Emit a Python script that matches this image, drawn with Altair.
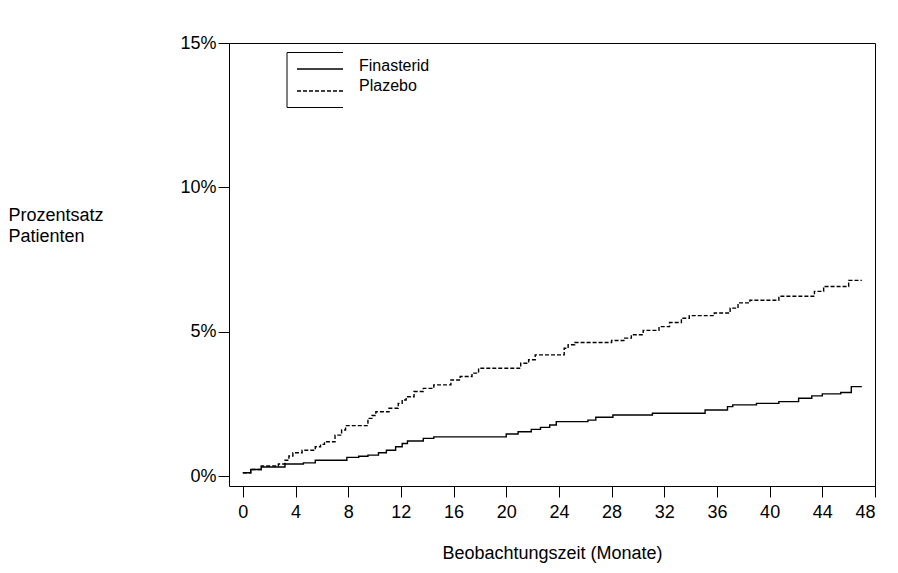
import altair as alt
import pandas as pd

# Kaplan-Meier style cumulative incidence (month, percent)
fin_month = [0, 0.6, 1.4, 3.2, 4.6, 5.5, 7.9, 8.8, 9.5, 10.3, 10.9, 11.6, 12.1, 12.5, 13.7, 14.5,
             20.0, 20.9, 21.9, 22.6, 23.3, 23.8, 26.2, 26.8, 28.1, 31.1, 35.1, 36.8, 37.2, 39.0,
             40.7, 42.2, 43.2, 44.0, 45.4, 46.2, 47.0]
fin_pct = [0.12, 0.23, 0.32, 0.42, 0.46, 0.55, 0.65, 0.69, 0.73, 0.81, 0.90, 1.02, 1.13, 1.22, 1.31, 1.36,
           1.46, 1.54, 1.62, 1.69, 1.77, 1.89, 1.94, 2.04, 2.12, 2.18, 2.29, 2.41, 2.47, 2.52,
           2.58, 2.70, 2.78, 2.85, 2.90, 3.10, 3.10]

pla_month = [0, 0.6, 1.4, 2.7, 3.2, 3.5, 3.8, 4.5, 5.5, 5.9, 6.2, 7.0, 7.5, 7.8, 9.5, 9.8, 10.1, 11.1,
             11.8, 12.1, 12.4, 13.0, 13.7, 14.5, 15.8, 16.5, 17.4, 17.9, 21.1, 21.7, 22.2, 24.4, 24.7,
             25.2, 28.0, 29.0, 29.5, 30.4, 31.6, 32.4, 33.3, 33.9, 35.8, 37.0, 37.6, 38.5, 40.7, 43.4,
             44.1, 46.0, 47.0]
pla_pct = [0.12, 0.23, 0.35, 0.42, 0.55, 0.70, 0.81, 0.90, 1.02, 1.10, 1.19, 1.42, 1.60, 1.75, 2.00, 2.10,
           2.23, 2.35, 2.52, 2.64, 2.75, 2.93, 3.04, 3.16, 3.33, 3.45, 3.57, 3.74, 3.91, 4.03, 4.20, 4.43,
           4.55, 4.63, 4.70, 4.78, 4.90, 5.05, 5.18, 5.32, 5.47, 5.56, 5.65, 5.82, 6.00, 6.09, 6.23, 6.40,
           6.57, 6.78, 6.78]

series_names = ["Finasterid", "Plazebo"]
x_ticks = list(range(0, 49, 4))
y_ticks = [0, 5, 10, 15]

df = pd.concat([
    pd.DataFrame({"Monat": fin_month, "Prozent": fin_pct, "Gruppe": series_names[0]}),
    pd.DataFrame({"Monat": pla_month, "Prozent": pla_pct, "Gruppe": series_names[1]}),
])

FONT = "Liberation Sans"
DASH = [4, 2]

lines = alt.Chart(df).mark_line(interpolate="step-after", color="black", strokeWidth=1.4).encode(
    x=alt.X("Monat:Q",
            scale=alt.Scale(domain=[-1.05, 48], nice=False, zero=False),
            axis=alt.Axis(values=x_ticks, title="Beobachtungszeit (Monate)", grid=False, domain=False,
                          tickSize=11, tickColor="black", labelPadding=6, labelFontSize=18,
                          labelColor="black", labelFont=FONT, titleFont=FONT, titleFontSize=18,
                          titleFontWeight="normal", titleColor="black", titleY=72,
                          titleBaseline="alphabetic")),
    y=alt.Y("Prozent:Q",
            scale=alt.Scale(domain=[-0.34, 15], nice=False, zero=False),
            axis=alt.Axis(values=y_ticks, labelExpr="datum.value + '%'", title=["Prozentsatz", "Patienten"],
                          grid=False, domain=False, tickSize=11, tickColor="black", labelPadding=2,
                          labelFontSize=18, labelColor="black", labelFont=FONT, titleFont=FONT,
                          titleFontSize=18, titleFontWeight="normal", titleColor="black", titleAngle=0,
                          titleAlign="left", titleBaseline="alphabetic", titleX=-221, titleY=177,
                          titleLineHeight=21)),
    strokeDash=alt.StrokeDash("Gruppe:N", scale=alt.Scale(domain=series_names, range=[[1, 0], DASH]),
                              legend=None),
)

# Hand-drawn legend box (open on the right, as in the reference)
one = pd.DataFrame({"k": [0]})
box_top = alt.Chart(one).mark_rule(color="black", strokeWidth=1).encode(
    x=alt.value(58), x2=alt.value(114), y=alt.value(9.5))
box_bottom = alt.Chart(one).mark_rule(color="black", strokeWidth=1).encode(
    x=alt.value(58), x2=alt.value(114), y=alt.value(64.5))
box_left = alt.Chart(one).mark_rule(color="black", strokeWidth=1).encode(
    x=alt.value(58), y=alt.value(9.5), y2=alt.value(64.5))
leg_fin = alt.Chart(one).mark_rule(color="black", strokeWidth=1.3).encode(
    x=alt.value(68), x2=alt.value(114), y=alt.value(26))
leg_pla = alt.Chart(one).mark_rule(color="black", strokeWidth=1.3, strokeDash=DASH).encode(
    x=alt.value(68), x2=alt.value(114), y=alt.value(48))
txt_fin = alt.Chart(one).mark_text(align="left", baseline="alphabetic", fontSize=16, font=FONT,
                                   color="black", text=series_names[0]).encode(
    x=alt.value(130), y=alt.value(27.7))
txt_pla = alt.Chart(one).mark_text(align="left", baseline="alphabetic", fontSize=16, font=FONT,
                                   color="black", text=series_names[1]).encode(
    x=alt.value(130), y=alt.value(47.7))

chart = alt.layer(lines, box_top, box_bottom, box_left, leg_fin, leg_pla, txt_fin, txt_pla).properties(
    width=646, height=443,
    autosize=alt.AutoSizeParams(type="none"),
    padding={"left": 221, "top": 35, "right": 15, "bottom": 79},
    background="white",
).configure_view(stroke="black", strokeWidth=1)

chart.save("out.html", embed_options={"renderer": "svg", "actions": False})
